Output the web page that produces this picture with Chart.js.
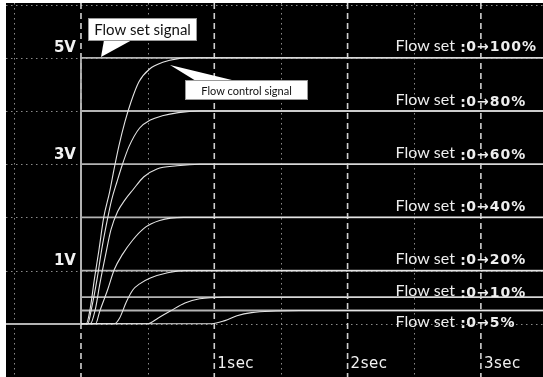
<!DOCTYPE html>
<html>
<head>
<meta charset="utf-8">
<script src="https://cdn.jsdelivr.net/npm/chart.js@4.4.0/dist/chart.umd.min.js"></script>
<style>
  html, body { margin: 0; padding: 0; background: #ffffff; }
  #wrap { width: 543px; height: 377px; position: relative; }
</style>
</head>
<body>
<div id="wrap"><canvas id="scope" width="543" height="377"></canvas></div>
<script>
// Flow set steps (percent of full scale) and the matching set-signal voltage
const setPercents = [100, 80, 60, 40, 20, 10, 5];
const setVolts = [5, 4, 3, 2, 1, 0.5, 0.25];

// Flow control signal responses, [time (s), voltage (V)]
const ctrl100 = [[0.04,0],[0.07,0.30],[0.10,0.83],[0.135,1.39],[0.17,1.99],[0.215,2.48],[0.25,2.93],[0.285,3.35],[0.33,3.80],[0.375,4.17],[0.435,4.55],[0.515,4.79],[0.62,4.92],[0.72,4.98],[0.86,5]];
const ctrl80  = [[0.05,0],[0.08,0.30],[0.12,0.83],[0.155,1.39],[0.195,1.92],[0.23,2.33],[0.27,2.67],[0.31,2.99],[0.36,3.33],[0.44,3.68],[0.52,3.83],[0.61,3.91],[0.73,3.97],[0.89,4]];
const ctrl60  = [[0.07,0],[0.11,0.30],[0.14,0.73],[0.185,1.30],[0.225,1.77],[0.275,2.11],[0.33,2.33],[0.39,2.52],[0.47,2.76],[0.57,2.91],[0.72,2.97],[0.89,3]];
const ctrl40  = [[0.11,0],[0.14,0.23],[0.20,0.64],[0.25,1.02],[0.31,1.30],[0.39,1.58],[0.47,1.79],[0.59,1.94],[0.77,2]];
const ctrl20  = [[0.25,0],[0.29,0.11],[0.34,0.41],[0.39,0.64],[0.44,0.75],[0.52,0.86],[0.65,0.96],[0.78,1]];
const ctrl10  = [[0.50,0],[0.58,0.11],[0.67,0.24],[0.78,0.39],[0.89,0.47],[1.08,0.5]];
const ctrl5   = [[0.98,0],[1.08,0.06],[1.17,0.15],[1.28,0.21],[1.46,0.24],[1.64,0.25]];
const ctrlCurves = [ctrl100, ctrl80, ctrl60, ctrl40, ctrl20, ctrl10, ctrl5];

// Screen graticule and tick labels
const gridVolts = [-1, 0, 1, 2, 3, 4, 5, 6];
const dashedSecs = [0, 1, 2, 3];
const dottedSecs = [-0.5, 0.5, 1.5, 2.5];
const voltTicks = [5, 3, 1];
const voltTickLabels = ['5V', '3V', '1V'];
const secTicks = [1, 2, 3];
const secTickLabels = ['1sec', '2sec', '3sec'];

const X_MIN = -0.5625, X_MAX = 3.466, Y_MIN = -1, Y_MAX = 6.03;

const datasets = [];
setVolts.forEach((v, i) => {
  // step command: 0 V before t = 0, then the set level
  datasets.push({
    label: 'Flow set ' + setPercents[i] + '%',
    data: [{x: X_MIN - 1, y: 0}, {x: 0, y: 0}, {x: 0, y: v}, {x: X_MAX + 1, y: v}],
    borderColor: '#b4b4b4', borderWidth: 1.8, tension: 0, order: 2
  });
  const pts = [{x: 0, y: 0}].concat(ctrlCurves[i].map(p => ({x: p[0], y: p[1]})));
  pts.push({x: X_MAX + 1, y: v});
  datasets.push({
    label: 'Flow control ' + setPercents[i] + '%',
    data: pts,
    borderColor: '#e4e4e4', borderWidth: 1.1, cubicInterpolationMode: 'monotone', order: 1
  });
});

// label placement (pixel offsets from the set level)
const LABEL_DY = [-12, -11, -11, -12, -12, -6, 11];

function strokeLine(ctx, x1, y1, x2, y2) {
  ctx.beginPath(); ctx.moveTo(x1, y1); ctx.lineTo(x2, y2); ctx.stroke();
}

function callout(ctx, box, tail, text, font) {
  ctx.save();
  ctx.fillStyle = '#ffffff';
  ctx.beginPath();
  ctx.moveTo(tail[0][0], tail[0][1]);
  ctx.lineTo(tail[1][0], tail[1][1]);
  ctx.lineTo(tail[2][0], tail[2][1]);
  ctx.closePath();
  ctx.fill();
  ctx.fillRect(box[0], box[1], box[2], box[3]);
  ctx.strokeStyle = '#9a9a9a';
  ctx.lineWidth = 1;
  ctx.strokeRect(box[0] + 0.5, box[1] + 0.5, box[2] - 1, box[3] - 1);
  ctx.fillStyle = '#111111';
  ctx.font = font;
  ctx.textAlign = 'center';
  ctx.textBaseline = 'middle';
  ctx.fillText(text, box[0] + box[2] / 2, box[1] + box[3] / 2 + 1);
  ctx.restore();
}

const scopePlugin = {
  id: 'scopeScreen',
  beforeDraw(chart) {
    const {ctx, chartArea: a, scales: {x, y}} = chart;
    ctx.save();
    ctx.fillStyle = '#000000';
    ctx.fillRect(a.left, a.top, a.right - a.left, a.bottom - a.top);
    ctx.beginPath();
    ctx.rect(a.left, a.top, a.right - a.left, a.bottom - a.top);
    ctx.clip();
    // dotted graticule
    ctx.strokeStyle = '#8a8a8a';
    ctx.lineWidth = 1;
    ctx.setLineDash([1.5, 3.5]);
    gridVolts.forEach(v => {
      const py = Math.round(y.getPixelForValue(v)) + 0.5;
      strokeLine(ctx, a.left, py, a.right, py);
    });
    dottedSecs.forEach(t => {
      const px = Math.round(x.getPixelForValue(t)) + 0.5;
      strokeLine(ctx, px, a.top, px, a.bottom);
    });
    // dashed one-second divisions
    ctx.strokeStyle = '#d0d0d0';
    ctx.lineWidth = 1.6;
    ctx.setLineDash([6, 4]);
    dashedSecs.forEach(t => {
      const px = x.getPixelForValue(t);
      strokeLine(ctx, px, a.top, px, a.bottom);
    });
    ctx.restore();
  },
  afterDatasetsDraw(chart) {
    const {ctx, scales: {x, y}} = chart;
    ctx.save();
    // voltage ticks
    ctx.fillStyle = '#f2f2f2';
    ctx.font = 'bold 15px "DejaVu Sans", sans-serif';
    ctx.textAlign = 'right';
    ctx.textBaseline = 'bottom';
    voltTicks.forEach((v, i) => {
      ctx.fillText(voltTickLabels[i], x.getPixelForValue(0) - 5, y.getPixelForValue(v) - 2);
    });
    // time ticks
    ctx.font = '15px "DejaVu Sans", sans-serif';
    ctx.letterSpacing = '0.5px';
    ctx.textAlign = 'left';
    ctx.textBaseline = 'alphabetic';
    secTicks.forEach((t, i) => {
      ctx.fillText(secTickLabels[i], x.getPixelForValue(t) + 3, y.getPixelForValue(-1) - 9);
    });
    ctx.letterSpacing = '0px';
    // flow set labels
    setPercents.forEach((p, i) => {
      const cy = y.getPixelForValue(setVolts[i]) + LABEL_DY[i];
      ctx.textBaseline = 'middle';
      ctx.fillStyle = '#eeeeee';
      ctx.font = '16px Lato, "Open Sans", sans-serif';
      ctx.fillText('Flow set', x.getPixelForValue(2.36), cy);
      ctx.font = 'bold 14px "DejaVu Sans", sans-serif';
      ctx.fillText(':', x.getPixelForValue(2.845), cy + 3);
      ctx.letterSpacing = '1px';
      ctx.fillText('0\u2192' + p + '%', x.getPixelForValue(2.89), cy + 2);
      ctx.letterSpacing = '0px';
    });
    ctx.restore();
    // annotation callouts
    callout(ctx, [88, 18, 109, 23], [[104, 40], [132, 40], [101, 57]], 'Flow set signal', '15px Lato, "Open Sans", sans-serif');
    callout(ctx, [185, 80, 123, 20], [[170, 65], [196, 81], [236, 81]], 'Flow control signal', '11px Lato, "Open Sans", sans-serif');
  }
};

new Chart(document.getElementById('scope'), {
  type: 'scatter',
  data: { datasets },
  options: {
    responsive: false,
    animation: false,
    devicePixelRatio: 1,
    showLine: true,
    layout: { padding: { left: 6, top: 3, right: 0, bottom: 0 } },
    elements: { point: { radius: 0, hoverRadius: 0 } },
    scales: {
      x: { type: 'linear', min: X_MIN, max: X_MAX, display: false },
      y: { type: 'linear', min: Y_MIN, max: Y_MAX, display: false }
    },
    plugins: { legend: { display: false }, tooltip: { enabled: false } }
  },
  plugins: [scopePlugin]
});
</script>
</body>
</html>
